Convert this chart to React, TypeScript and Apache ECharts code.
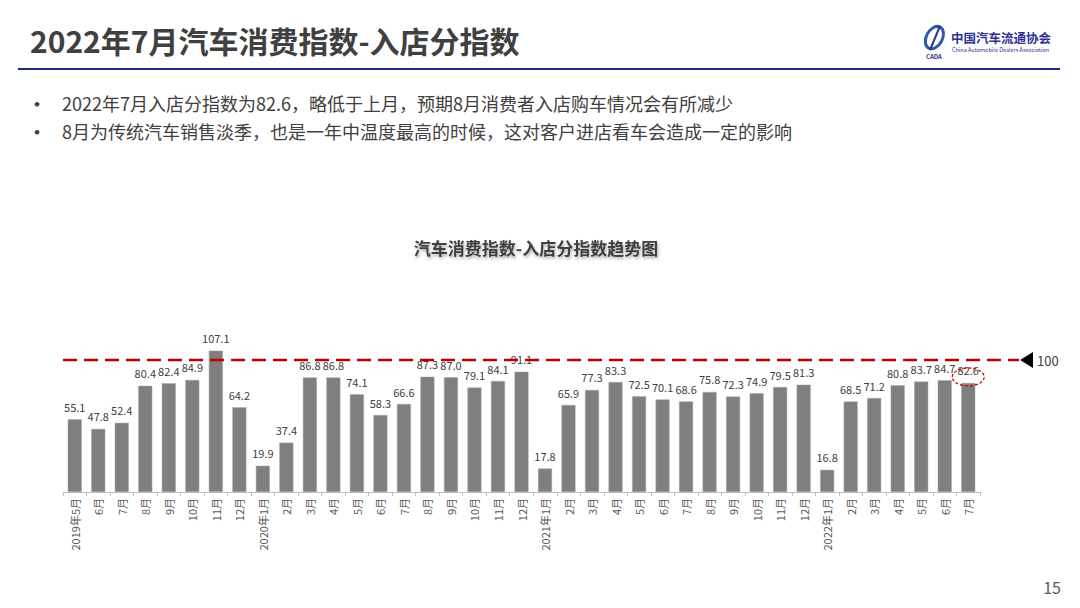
import React, { useEffect, useRef } from "react";
import * as echarts from "echarts";

const categories: string[] = [
  "2019年5月", "6月", "7月", "8月", "9月", "10月", "11月", "12月",
  "2020年1月", "2月", "3月", "4月", "5月", "6月", "7月", "8月", "9月", "10月", "11月", "12月",
  "2021年1月", "2月", "3月", "4月", "5月", "6月", "7月", "8月", "9月", "10月", "11月", "12月",
  "2022年1月", "2月", "3月", "4月", "5月", "6月", "7月",
];

const storeIndex: number[] = [
  55.1, 47.8, 52.4, 80.4, 82.4, 84.9, 107.1, 64.2,
  19.9, 37.4, 86.8, 86.8, 74.1, 58.3, 66.6, 87.3, 87.0, 79.1, 84.1, 91.1,
  17.8, 65.9, 77.3, 83.3, 72.5, 70.1, 68.6, 75.8, 72.3, 74.9, 79.5, 81.3,
  16.8, 68.5, 71.2, 80.8, 83.7, 84.7, 82.6,
];

const referenceLevel = 100;
const pageTitle = "2022年7月汽车消费指数-入店分指数";
const bullets: string[] = [
  "2022年7月入店分指数为82.6，略低于上月，预期8月消费者入店购车情况会有所减少",
  "8月为传统汽车销售淡季，也是一年中温度最高的时候，这对客户进店看车会造成一定的影响",
];
const chartTitle = "汽车消费指数-入店分指数趋势图";
const orgName = "中国汽车流通协会";
const orgEnglish = "China Automobile Dealers Association";
const pageNumber = "15";

const FONT = '"Noto Sans CJK SC", "Noto Sans", sans-serif';

export default function App() {
  const ref = useRef<HTMLDivElement>(null);

  useEffect(() => {
    document.body.style.margin = "0";
    const chart = echarts.init(ref.current!, null, { renderer: "svg" });
    const gridLeft = 63;
    const option: any = {
      animation: false,
      backgroundColor: "#ffffff",
      textStyle: { fontFamily: FONT },
      grid: { left: gridLeft, right: 100, top: 333.6, bottom: 116, containLabel: false },
      xAxis: {
        type: "category",
        data: categories,
        axisLine: { lineStyle: { color: "#bfbfbf", width: 1 } },
        axisTick: { show: true, length: 4, lineStyle: { color: "#bfbfbf" } },
        axisLabel: {
          rotate: 90,
          interval: 0,
          color: "#595959",
          fontSize: 11,
          margin: 6,
          fontFamily: FONT,
        },
      },
      yAxis: {
        type: "value",
        min: 0,
        max: 120,
        show: false,
        splitLine: { show: false },
      },
      series: [
        {
          type: "bar",
          data: storeIndex,
          barWidth: 14,
          itemStyle: { color: "#7f7f7f", borderColor: "#a6a6a6", borderWidth: 0.5 },
          label: {
            show: true,
            position: "top",
            distance: 7,
            color: "#404040",
            fontSize: 11,
            fontFamily: FONT,
            formatter: (p: any) => Number(p.value).toFixed(1),
          },
        },
      ],
    };
    chart.setOption(option);

    const yRef = chart.convertToPixel({ yAxisIndex: 0 }, referenceLevel) as number;
    const lastIdx = storeIndex.length - 1;
    const lastPt = chart.convertToPixel({ xAxisIndex: 0, yAxisIndex: 0 }, [lastIdx, storeIndex[lastIdx]]) as number[];

    chart.setOption({
      graphic: [
        {
          type: "text",
          left: 30,
          top: 25,
          style: { text: pageTitle, fontSize: 30, fontWeight: "bold", fill: "#404040", fontFamily: FONT },
        },
        {
          type: "line",
          shape: { x1: 18, y1: 69, x2: 1060, y2: 69 },
          style: { stroke: "#1f2a7a", lineWidth: 2 },
        },
        {
          type: "ellipse",
          shape: { cx: 934, cy: 38, rx: 8, ry: 12 },
          rotation: -0.5,
          originX: 934,
          originY: 38,
          style: { fill: "none", stroke: "#2e5aa8", lineWidth: 3 },
        },
        {
          type: "line",
          shape: { x1: 930, y1: 50, x2: 940, y2: 26 },
          style: { stroke: "#2e3192", lineWidth: 2 },
        },
        {
          type: "text",
          x: 934,
          y: 56,
          style: { text: "CADA", fontSize: 6, fontWeight: "bold", fill: "#2e3192", align: "center", verticalAlign: "middle", fontFamily: FONT },
        },
        {
          type: "text",
          x: 951,
          y: 37,
          style: { text: orgName, fontSize: 12.5, fontWeight: "bold", fill: "#2e3192", verticalAlign: "middle", fontFamily: FONT },
        },
        {
          type: "text",
          x: 952,
          y: 50,
          style: { text: orgEnglish, fontSize: 5.5, fill: "#2e3192", verticalAlign: "middle", fontFamily: FONT },
        },
        ...bullets.flatMap((b, i) => [
          {
            type: "text",
            x: 28,
            y: 103 + i * 28,
            style: { text: "•", fontSize: 18, fontWeight: "bold", fill: "#404040", verticalAlign: "middle", fontFamily: FONT },
          },
          {
            type: "text",
            x: 62,
            y: 103 + i * 28,
            style: { text: b, fontSize: 18, fill: "#404040", verticalAlign: "middle", fontFamily: FONT },
          },
        ]),
        {
          type: "text",
          x: 536,
          y: 247,
          style: {
            text: chartTitle,
            fontSize: 17,
            fontWeight: "bold",
            fill: "#404040",
            align: "center",
            verticalAlign: "middle",
            fontFamily: FONT,
            textShadowColor: "rgba(0,0,0,0.35)",
            textShadowBlur: 3,
            textShadowOffsetX: 1,
            textShadowOffsetY: 2,
          },
        },
        {
          type: "line",
          shape: { x1: gridLeft, y1: yRef, x2: 1019, y2: yRef },
          style: { stroke: "#c00000", lineWidth: 2.5, lineDash: [14, 7] },
          z: 10,
        },
        {
          type: "polygon",
          shape: { points: [[1020, yRef], [1033, yRef - 8], [1033, yRef + 8]] },
          style: { fill: "#000000" },
          z: 10,
        },
        {
          type: "text",
          x: 1037,
          y: yRef,
          style: { text: String(referenceLevel), fontSize: 13, fill: "#404040", verticalAlign: "middle", fontFamily: FONT },
        },
        {
          type: "ellipse",
          shape: { cx: lastPt[0], cy: lastPt[1] - 6, rx: 16, ry: 9 },
          style: { fill: "none", stroke: "#c00000", lineWidth: 1.2, lineDash: [3, 2] },
          z: 10,
        },
        {
          type: "text",
          x: 1052,
          y: 587,
          style: { text: pageNumber, fontSize: 16, fill: "#595959", align: "center", verticalAlign: "middle", fontFamily: FONT },
        },
      ],
    });

    return () => chart.dispose();
  }, []);

  return (
    <div
      ref={ref}
      style={{ position: "absolute", left: 0, top: 0, width: 1080, height: 608, background: "#fff" }}
    />
  );
}
